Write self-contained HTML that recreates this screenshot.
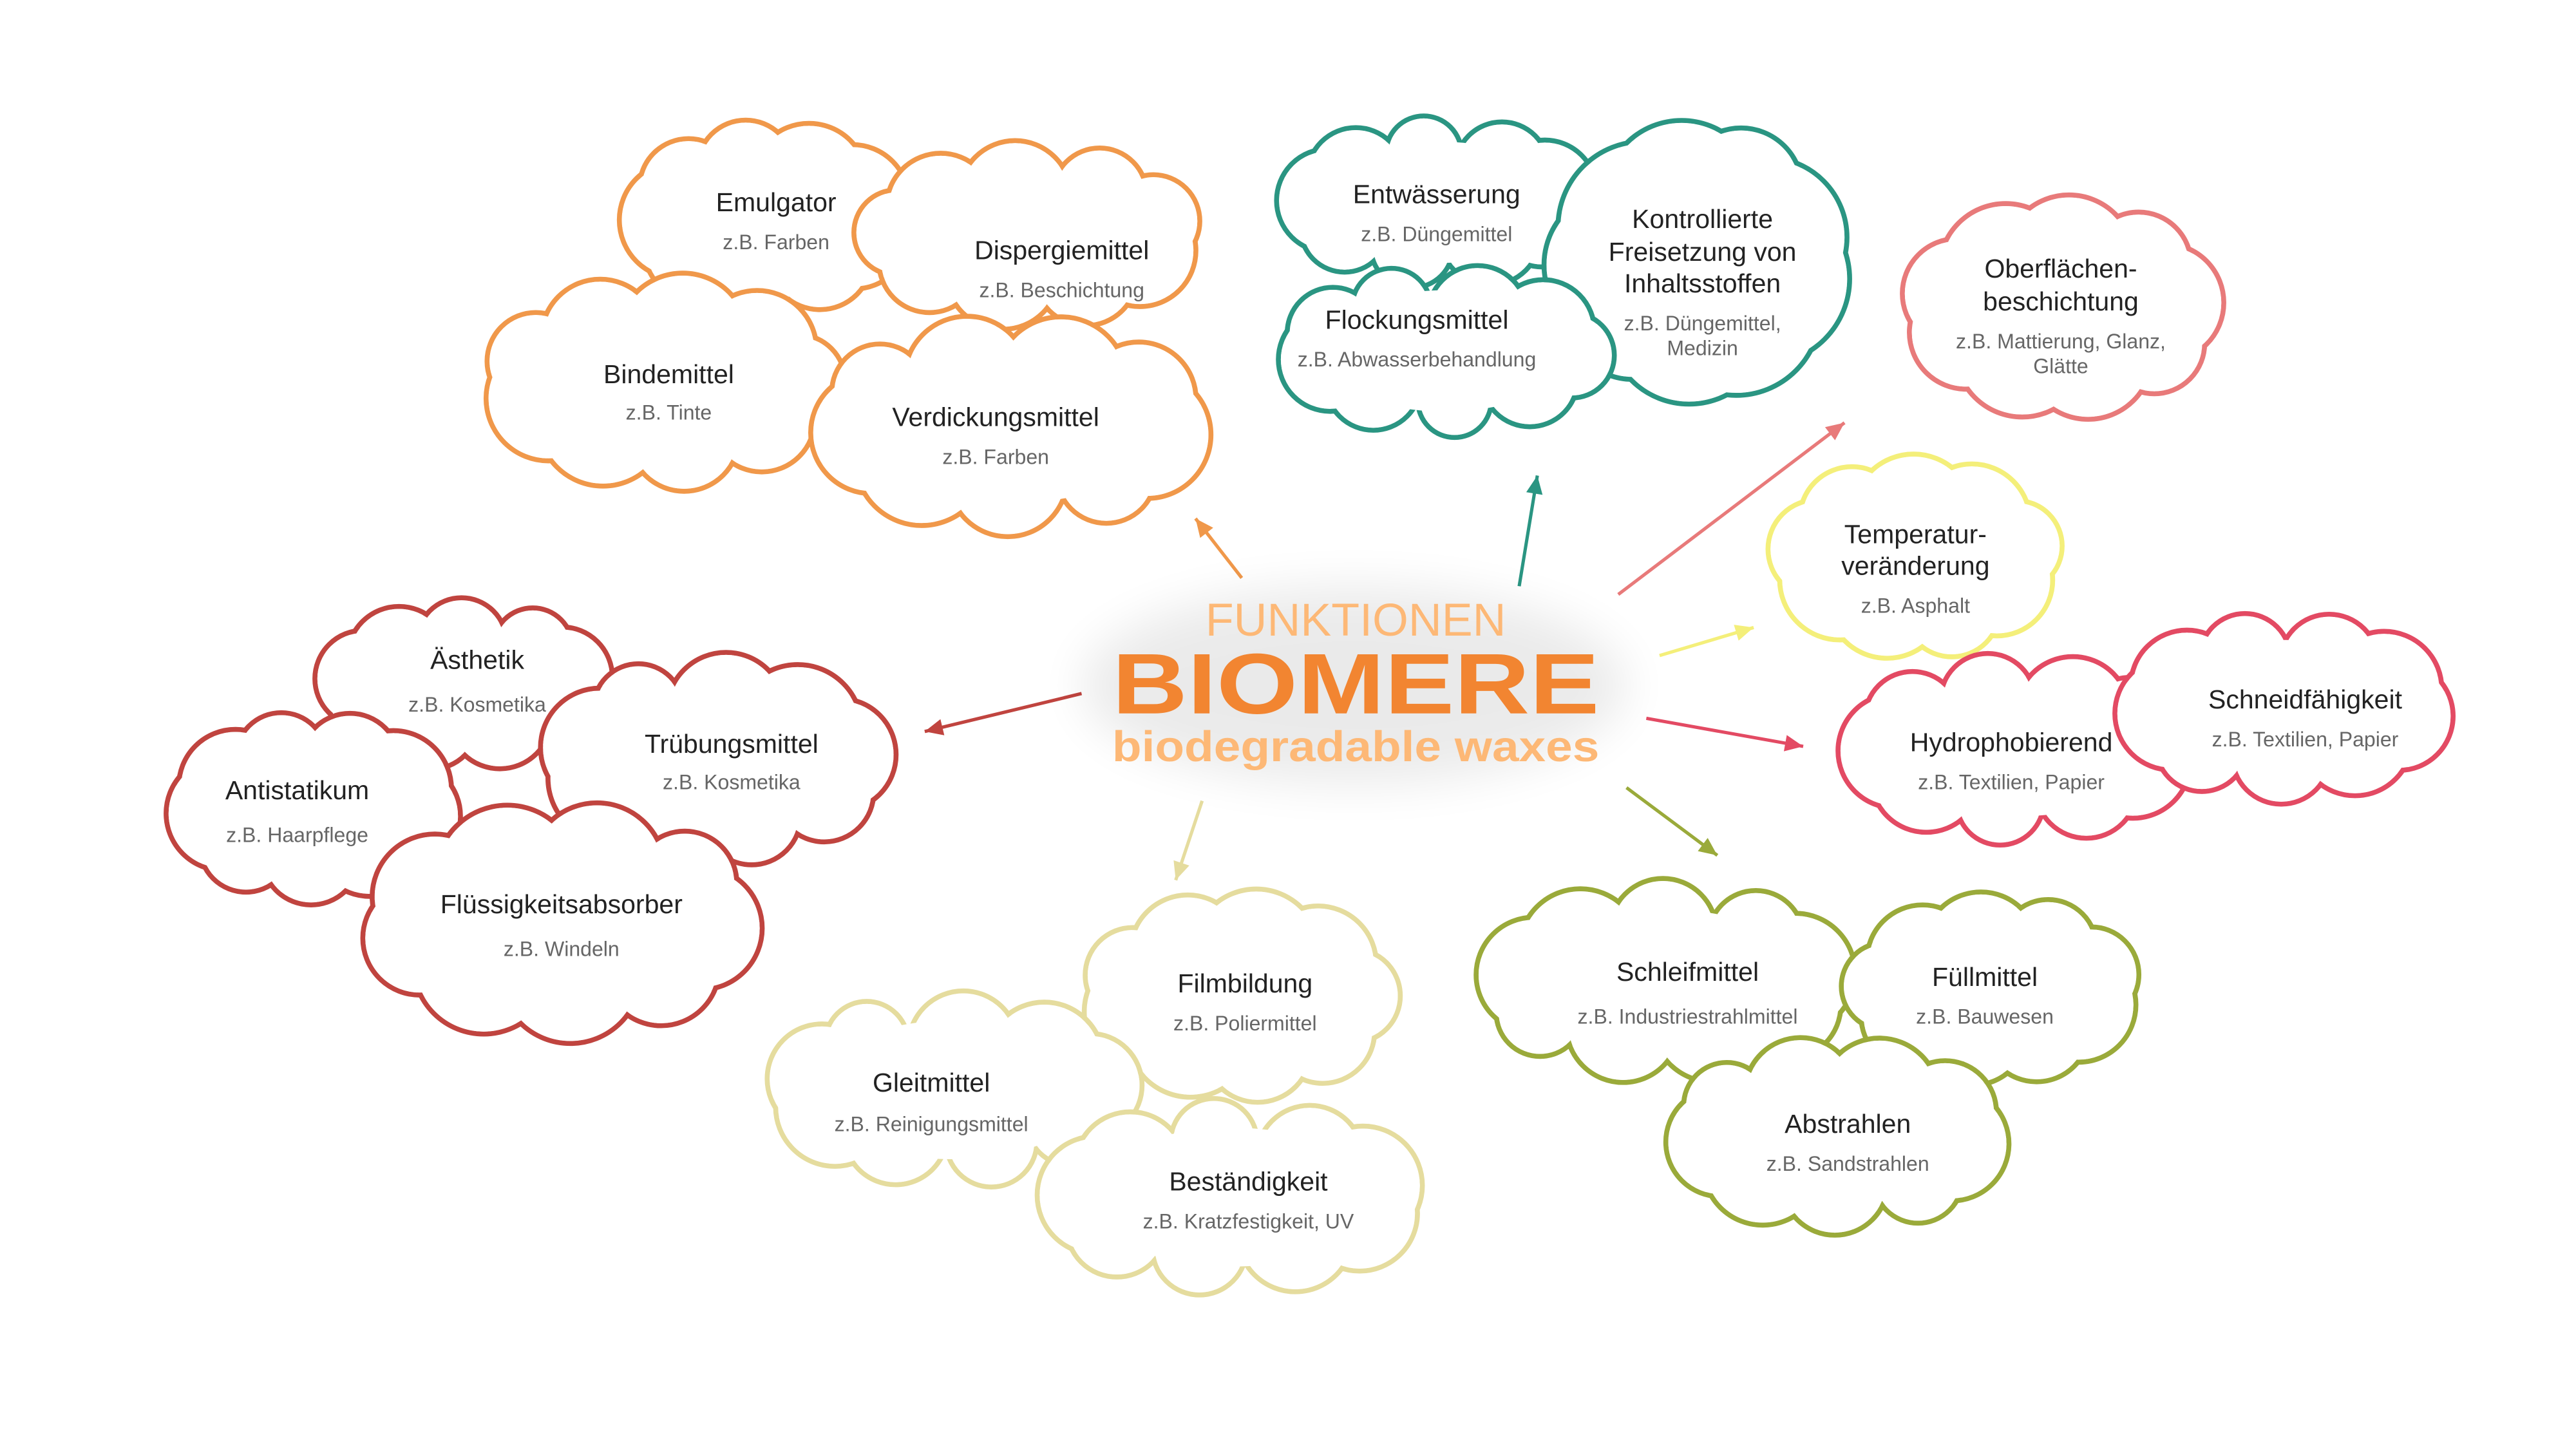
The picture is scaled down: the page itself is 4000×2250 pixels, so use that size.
<!DOCTYPE html>
<html><head><meta charset="utf-8">
<style>
html,body{margin:0;padding:0;background:#fff;width:4000px;height:2250px;overflow:hidden}
svg{display:block}
.t{font-family:"Liberation Sans",sans-serif;font-size:16px;fill:#222;text-anchor:middle}
.s{font-family:"Liberation Sans",sans-serif;font-size:12.5px;fill:#666;text-anchor:middle}
</style></head><body>
<svg id="sv" width="4000" height="2250" viewBox="0 0 1560 877.5" xmlns="http://www.w3.org/2000/svg">
<defs>
<filter id="gl" x="-30%" y="-50%" width="160%" height="200%"><feGaussianBlur stdDeviation="14"/></filter>
<marker id="ah" viewBox="0 0 10 10" refX="8" refY="5" markerWidth="5" markerHeight="5" orient="auto" markerUnits="strokeWidth"><path d="M0,0 L10,5 L0,10 z" fill="context-stroke"/></marker>
</defs>
<g id="clouds"></g>
<g id="arrows"></g>
<ellipse cx="820" cy="415" rx="165" ry="60" fill="#000" opacity="0.08" filter="url(#gl)"/>
<text x="821" y="385" textLength="182" lengthAdjust="spacingAndGlyphs" style="font-family:'Liberation Sans',sans-serif;font-size:28px;fill:#fdb876;text-anchor:middle">FUNKTIONEN</text>
<text x="821" y="432" textLength="295" lengthAdjust="spacingAndGlyphs" style="font-family:'Liberation Sans',sans-serif;font-size:52px;font-weight:bold;fill:#f28531;text-anchor:middle">BIOMERE</text>
<text x="821" y="461" textLength="295" lengthAdjust="spacingAndGlyphs" style="font-family:'Liberation Sans',sans-serif;font-size:26px;font-weight:bold;fill:#fdb876;text-anchor:middle">biodegradable waxes</text>
</svg>
<script>
var NS="http://www.w3.org/2000/svg";
var cg=document.getElementById('clouds');
function el(n,a,p){var e=document.createElementNS(NS,n);for(var k in a)e.setAttribute(k,a[k]);(p||cg).appendChild(e);return e;}
function cloud(x1,y1,x2,y2,col,seed,lines){
  var cx=(x1+x2)/2,cy=(y1+y2)/2,rx=(x2-x1)/2,ry=(y2-y1)/2;
  var n=9,circ=[];
  for(var i=0;i<n;i++){
    var a=(i/n)*Math.PI*2+seed;
    var r=Math.min(rx,ry)*(0.42+0.18*Math.abs(Math.sin(i*2.3+seed*5)));
    circ.push([cx+(rx-r)*Math.cos(a),cy+(ry-r)*Math.sin(a),r]);
  }
  var g=el('g',{});
  circ.forEach(function(c){el('circle',{cx:c[0],cy:c[1],r:c[2],fill:'none',stroke:col,'stroke-width':3},g);});
  circ.forEach(function(c){el('circle',{cx:c[0],cy:c[1],r:c[2]-1.5,fill:'#fff'},g);});
  el('ellipse',{cx:cx,cy:cy,rx:rx*0.75,ry:ry*0.7,fill:'#fff'},g);
  lines.forEach(function(L){var t=el('text',{x:L[0],y:L[1],'class':L[3]},g);t.textContent=L[2];});
}
var O='#f0984a',R='#c0443f',T='#2a9582',P='#e87a7a',Y='#f4ef7a',RP='#e34a63',OL='#9aaa3a',B='#e5dc9e';
// orange
cloud(375,72,555,192,O,0.3,[[470,128,'Emulgator','t'],[470,151,'z.B. Farben','s']]);
cloud(517,85,730,200,O,1.1,[[643,157,'Dispergiemittel','t'],[643,180,'z.B. Beschichtung','s']]);
cloud(290,165,512,298,O,0.7,[[405,232,'Bindemittel','t'],[405,254,'z.B. Tinte','s']]);
cloud(490,190,735,325,O,0.2,[[603,258,'Verdickungsmittel','t'],[603,281,'z.B. Farben','s']]);
// red
cloud(190,362,372,467,R,0.5,[[289,405,'Ästhetik','t'],[289,431,'z.B. Kosmetika','s']]);
cloud(325,395,543,525,R,1.3,[[443,456,'Trübungsmittel','t'],[443,478,'z.B. Kosmetika','s']]);
cloud(100,430,280,548,R,0.9,[[180,484,'Antistatikum','t'],[180,510,'z.B. Haarpflege','s']]);
cloud(217,485,462,632,R,0.1,[[340,553,'Flüssigkeitsabsorber','t'],[340,579,'z.B. Windeln','s']]);
// teal
cloud(773,70,970,175,T,0.4,[[870,123,'Entwässerung','t'],[870,146,'z.B. Düngemittel','s']]);
cloud(935,72,1122,245,T,1.0,[[1031,138,'Kontrollierte','t'],[1031,158,'Freisetzung von','t'],[1031,177,'Inhaltsstoffen','t'],[1031,200,'z.B. Düngemittel,','s'],[1031,215,'Medizin','s']]);
cloud(772,160,978,265,T,0.8,[[858,199,'Flockungsmittel','t'],[858,222,'z.B. Abwasserbehandlung','s']]);
// pink / yellow
cloud(1150,118,1347,255,P,0.6,[[1248,168,'Oberflächen-','t'],[1248,188,'beschichtung','t'],[1248,211,'z.B. Mattierung, Glanz,','s'],[1248,226,'Glätte','s']]);
cloud(1070,275,1250,400,Y,1.2,[[1160,329,'Temperatur-','t'],[1160,348,'veränderung','t'],[1160,371,'z.B. Asphalt','s']]);
// red-pink
cloud(1113,395,1330,512,RP,0.3,[[1218,455,'Hydrophobierend','t'],[1218,478,'z.B. Textilien, Papier','s']]);
cloud(1280,370,1487,487,RP,0.9,[[1396,429,'Schneidfähigkeit','t'],[1396,452,'z.B. Textilien, Papier','s']]);
// olive
cloud(893,532,1125,657,OL,0.5,[[1022,594,'Schleifmittel','t'],[1022,620,'z.B. Industriestrahlmittel','s']]);
cloud(1115,540,1298,658,OL,1.1,[[1202,597,'Füllmittel','t'],[1202,620,'z.B. Bauwesen','s']]);
cloud(1008,627,1218,748,OL,0.2,[[1119,686,'Abstrahlen','t'],[1119,709,'z.B. Sandstrahlen','s']]);
// beige
cloud(653,538,848,668,B,0.7,[[754,601,'Filmbildung','t'],[754,624,'z.B. Poliermittel','s']]);
cloud(462,600,692,720,B,1.3,[[564,661,'Gleitmittel','t'],[564,685,'z.B. Reinigungsmittel','s']]);
cloud(628,665,865,785,B,0.4,[[756,721,'Beständigkeit','t'],[756,744,'z.B. Kratzfestigkeit, UV','s']]);
// arrows
var ag=document.getElementById('arrows');
[[752,350,724,314,O],[920,355,931,288,T],[980,360,1117,256,P],[1005,397,1062,380,Y],[997,435,1092,452,RP],[985,477,1040,518,OL],[728,485,712,533,B],[655,420,560,443,R]].forEach(function(a){
  el('line',{x1:a[0],y1:a[1],x2:a[2],y2:a[3],stroke:a[4],'stroke-width':2},ag);
  var ang=Math.atan2(a[3]-a[1],a[2]-a[0]),L=11,W=5;
  var bx=a[2]-L*Math.cos(ang),by=a[3]-L*Math.sin(ang);
  var px=-Math.sin(ang)*W,py=Math.cos(ang)*W;
  el('polygon',{points:a[2]+','+a[3]+' '+(bx+px)+','+(by+py)+' '+(bx-px)+','+(by-py),fill:a[4]},ag);
});
</script>
</body></html>
